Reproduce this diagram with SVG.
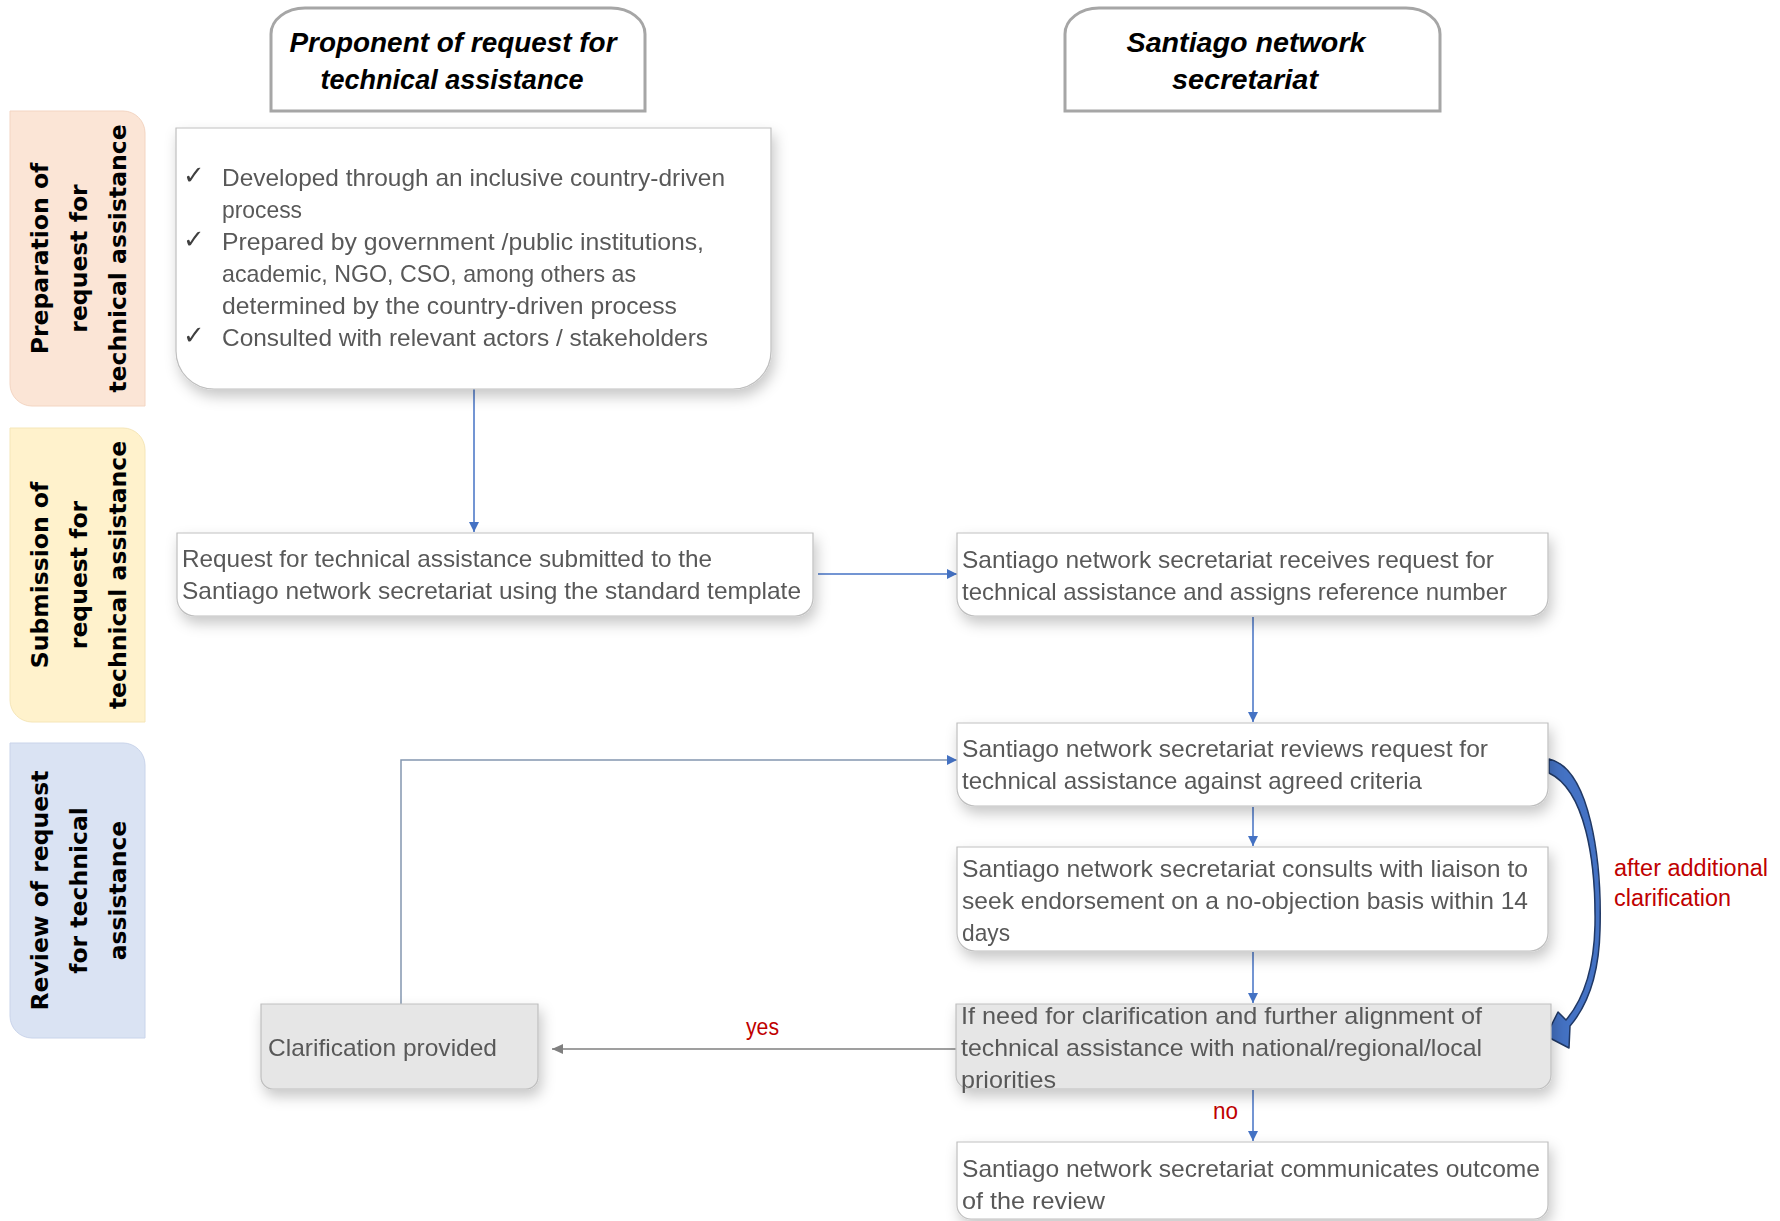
<svg xmlns="http://www.w3.org/2000/svg" width="1780" height="1221" viewBox="0 0 1780 1221">
<style>
.hdr{font-family:"Liberation Sans",Arial,sans-serif;font-weight:bold;font-style:italic;font-size:28px;fill:#000;text-anchor:middle}
.lane{font-family:"DejaVu Sans",Verdana,sans-serif;font-weight:bold;font-size:23.5px;fill:#000;text-anchor:middle}
.body{font-family:"Liberation Sans",Arial,sans-serif;font-size:24px;fill:#595959}
.chk{font-family:"DejaVu Sans",sans-serif;font-size:26px;fill:#404040}
.lbl{font-family:"Liberation Sans",Arial,sans-serif;font-size:23px;fill:#C00000}
.box{fill:#fff;stroke:#BFBFBF;stroke-width:1.2}
.gbox{fill:#E6E6E6;stroke:#BFBFBF;stroke-width:1.2}
.hbox{fill:#fff;stroke:#A6A6A6;stroke-width:3}
.conn{fill:none;stroke:#4472C4;stroke-width:1.5}
</style>
<defs>
<filter id="sh" x="-10%" y="-20%" width="125%" height="160%">
<feDropShadow dx="3" dy="7" stdDeviation="7" flood-color="#000" flood-opacity="0.22"/>
</filter>
<marker id="ab" markerUnits="userSpaceOnUse" markerWidth="12" markerHeight="12" refX="10" refY="5" orient="auto">
<path d="M0,0 L10,5 L0,10 z" fill="#4472C4"/>
</marker>
<marker id="ag" markerUnits="userSpaceOnUse" markerWidth="14" markerHeight="12" refX="11" refY="5" orient="auto">
<path d="M0,0 L11,5 L0,10 z" fill="#7F7F7F"/>
</marker>
</defs>

<g id="lane-preparation">
<path d="M10,111 H123 A22,22 0 0 1 145,133 V406 H32 A22,22 0 0 1 10,384 Z" fill="#FBE5D6" stroke="#F3D5C2" stroke-width="1"/>
<g transform="translate(0,258.5) rotate(-90)">
<text class="lane" x="0" y="48">Preparation of</text>
<text class="lane" x="0" y="87">request for</text>
<text class="lane" x="0" y="126">technical assistance</text>
</g>
</g>
<g id="lane-submission">
<path d="M10,428 H123 A22,22 0 0 1 145,450 V722 H32 A22,22 0 0 1 10,700 Z" fill="#FFF2CC" stroke="#F5E6B8" stroke-width="1"/>
<g transform="translate(0,575) rotate(-90)">
<text class="lane" x="0" y="48">Submission of</text>
<text class="lane" x="0" y="87">request for</text>
<text class="lane" x="0" y="126">technical assistance</text>
</g>
</g>
<g id="lane-review">
<path d="M10,743 H123 A22,22 0 0 1 145,765 V1038 H32 A22,22 0 0 1 10,1016 Z" fill="#DAE3F3" stroke="#C9D4EA" stroke-width="1"/>
<g transform="translate(0,890.5) rotate(-90)">
<text class="lane" x="0" y="48">Review of request</text>
<text class="lane" x="0" y="87">for technical</text>
<text class="lane" x="0" y="126">assistance</text>
</g>
</g>

<g id="header-proponent">
<path class="hbox" d="M271,111 V34 A34,26 0 0 1 305,8 H611 A34,26 0 0 1 645,34 V111 Z"/>
<text class="hdr" x="453" y="52" textLength="327" lengthAdjust="spacingAndGlyphs">Proponent of request for</text>
<text class="hdr" x="452" y="89" textLength="263" lengthAdjust="spacingAndGlyphs">technical assistance</text>
</g>
<g id="header-secretariat">
<path class="hbox" d="M1065,111 V34 A34,26 0 0 1 1099,8 H1406 A34,26 0 0 1 1440,34 V111 Z"/>
<text class="hdr" x="1246" y="52" textLength="239" lengthAdjust="spacingAndGlyphs">Santiago network</text>
<text class="hdr" x="1245" y="89" textLength="146" lengthAdjust="spacingAndGlyphs">secretariat</text>
</g>

<g id="connectors">
<path class="conn" d="M474,389 V532" marker-end="url(#ab)"/>
<path class="conn" d="M818,574 H957" marker-end="url(#ab)"/>
<path class="conn" d="M1253,617 V722" marker-end="url(#ab)"/>
<path class="conn" d="M1253,807 V846" marker-end="url(#ab)"/>
<path class="conn" d="M1253,952 V1003" marker-end="url(#ab)"/>
<path class="conn" d="M1253,1090 V1141" marker-end="url(#ab)"/>
<path d="M956,1049 H552" fill="none" stroke="#7F7F7F" stroke-width="1.5" marker-end="url(#ag)"/>
<path d="M401,1004 V760 H957" fill="none" stroke="#8497B0" stroke-width="1.5" marker-end="url(#ab)"/>
<path d="M1549,759 C1590,768 1602,860 1600,930 C1599,975 1588,1005 1570,1026 L1569,1048 L1546,1036 L1558,1012 L1566,1020 C1583,1000 1594,970 1595,925 C1596,860 1585,790 1549,773 Z" fill="#4472C4" stroke="#203864" stroke-width="1.5" stroke-linejoin="round"/>
<text class="lbl" x="746" y="1035" textLength="33" lengthAdjust="spacingAndGlyphs">yes</text>
<text class="lbl" x="1213" y="1119" textLength="25" lengthAdjust="spacingAndGlyphs">no</text>
<text class="lbl" x="1614" y="876" textLength="154" lengthAdjust="spacingAndGlyphs">after additional</text>
<text class="lbl" x="1614" y="906" textLength="117" lengthAdjust="spacingAndGlyphs">clarification</text>
</g>

<g id="node-preparation" filter="url(#sh)">
<path class="box" d="M176,128 H771 V351 A38,38 0 0 1 733,389 H214 A38,38 0 0 1 176,351 Z"/>
<text class="chk" x="183" y="184">✓</text>
<text class="body" x="222" y="186" textLength="503" lengthAdjust="spacingAndGlyphs">Developed through an inclusive country-driven</text>
<text class="body" x="222" y="218" textLength="80" lengthAdjust="spacingAndGlyphs">process</text>
<text class="chk" x="183" y="248">✓</text>
<text class="body" x="222" y="250" textLength="482" lengthAdjust="spacingAndGlyphs">Prepared by government /public institutions,</text>
<text class="body" x="222" y="282" textLength="414" lengthAdjust="spacingAndGlyphs">academic, NGO, CSO, among others as</text>
<text class="body" x="222" y="314" textLength="455" lengthAdjust="spacingAndGlyphs">determined by the country-driven process</text>
<text class="chk" x="183" y="344">✓</text>
<text class="body" x="222" y="346" textLength="486" lengthAdjust="spacingAndGlyphs">Consulted with relevant actors / stakeholders</text>
</g>

<g id="node-submitted" filter="url(#sh)">
<path class="box" d="M177,533 H813 V598 A18,18 0 0 1 795,616 H195 A18,18 0 0 1 177,598 Z"/>
<text class="body" x="182" y="567" textLength="530" lengthAdjust="spacingAndGlyphs">Request for technical assistance submitted to the</text>
<text class="body" x="182" y="599" textLength="619" lengthAdjust="spacingAndGlyphs">Santiago network secretariat using the standard template</text>
</g>

<g id="node-receives" filter="url(#sh)">
<path class="box" d="M957,533 H1548 V598 A18,18 0 0 1 1530,616 H975 A18,18 0 0 1 957,598 Z"/>
<text class="body" x="962" y="568" textLength="532" lengthAdjust="spacingAndGlyphs">Santiago network secretariat receives request for</text>
<text class="body" x="962" y="600" textLength="545" lengthAdjust="spacingAndGlyphs">technical assistance and assigns reference number</text>
</g>

<g id="node-reviews" filter="url(#sh)">
<path class="box" d="M957,723 H1548 V788 A18,18 0 0 1 1530,806 H975 A18,18 0 0 1 957,788 Z"/>
<text class="body" x="962" y="757" textLength="526" lengthAdjust="spacingAndGlyphs">Santiago network secretariat reviews request for</text>
<text class="body" x="962" y="789" textLength="460" lengthAdjust="spacingAndGlyphs">technical assistance against agreed criteria</text>
</g>

<g id="node-consults" filter="url(#sh)">
<path class="box" d="M957,847 H1548 V933 A18,18 0 0 1 1530,951 H975 A18,18 0 0 1 957,933 Z"/>
<text class="body" x="962" y="877" textLength="566" lengthAdjust="spacingAndGlyphs">Santiago network secretariat consults with liaison to</text>
<text class="body" x="962" y="909" textLength="566" lengthAdjust="spacingAndGlyphs">seek endorsement on a no-objection basis within 14</text>
<text class="body" x="962" y="941" textLength="48" lengthAdjust="spacingAndGlyphs">days</text>
</g>

<g id="node-clarification-need" filter="url(#sh)">
<path class="gbox" d="M956,1004 H1551 V1075 A14,14 0 0 1 1537,1089 H970 A14,14 0 0 1 956,1075 Z"/>
<text class="body" x="961" y="1024" textLength="521" lengthAdjust="spacingAndGlyphs">If need for clarification and further alignment of</text>
<text class="body" x="961" y="1056" textLength="521" lengthAdjust="spacingAndGlyphs">technical assistance with national/regional/local</text>
<text class="body" x="961" y="1088" textLength="95" lengthAdjust="spacingAndGlyphs">priorities</text>
</g>

<g id="node-outcome" filter="url(#sh)">
<path class="box" d="M957,1142 H1548 V1205 A14,14 0 0 1 1534,1219 H971 A14,14 0 0 1 957,1205 Z"/>
<text class="body" x="962" y="1177" textLength="578" lengthAdjust="spacingAndGlyphs">Santiago network secretariat communicates outcome</text>
<text class="body" x="962" y="1209" textLength="143" lengthAdjust="spacingAndGlyphs">of the review</text>
</g>

<g id="node-clarification-provided" filter="url(#sh)">
<path class="gbox" d="M261,1004 H538 V1077 A12,12 0 0 1 526,1089 H273 A12,12 0 0 1 261,1077 Z"/>
<text class="body" x="268" y="1056" textLength="229" lengthAdjust="spacingAndGlyphs">Clarification provided</text>
</g>
</svg>
